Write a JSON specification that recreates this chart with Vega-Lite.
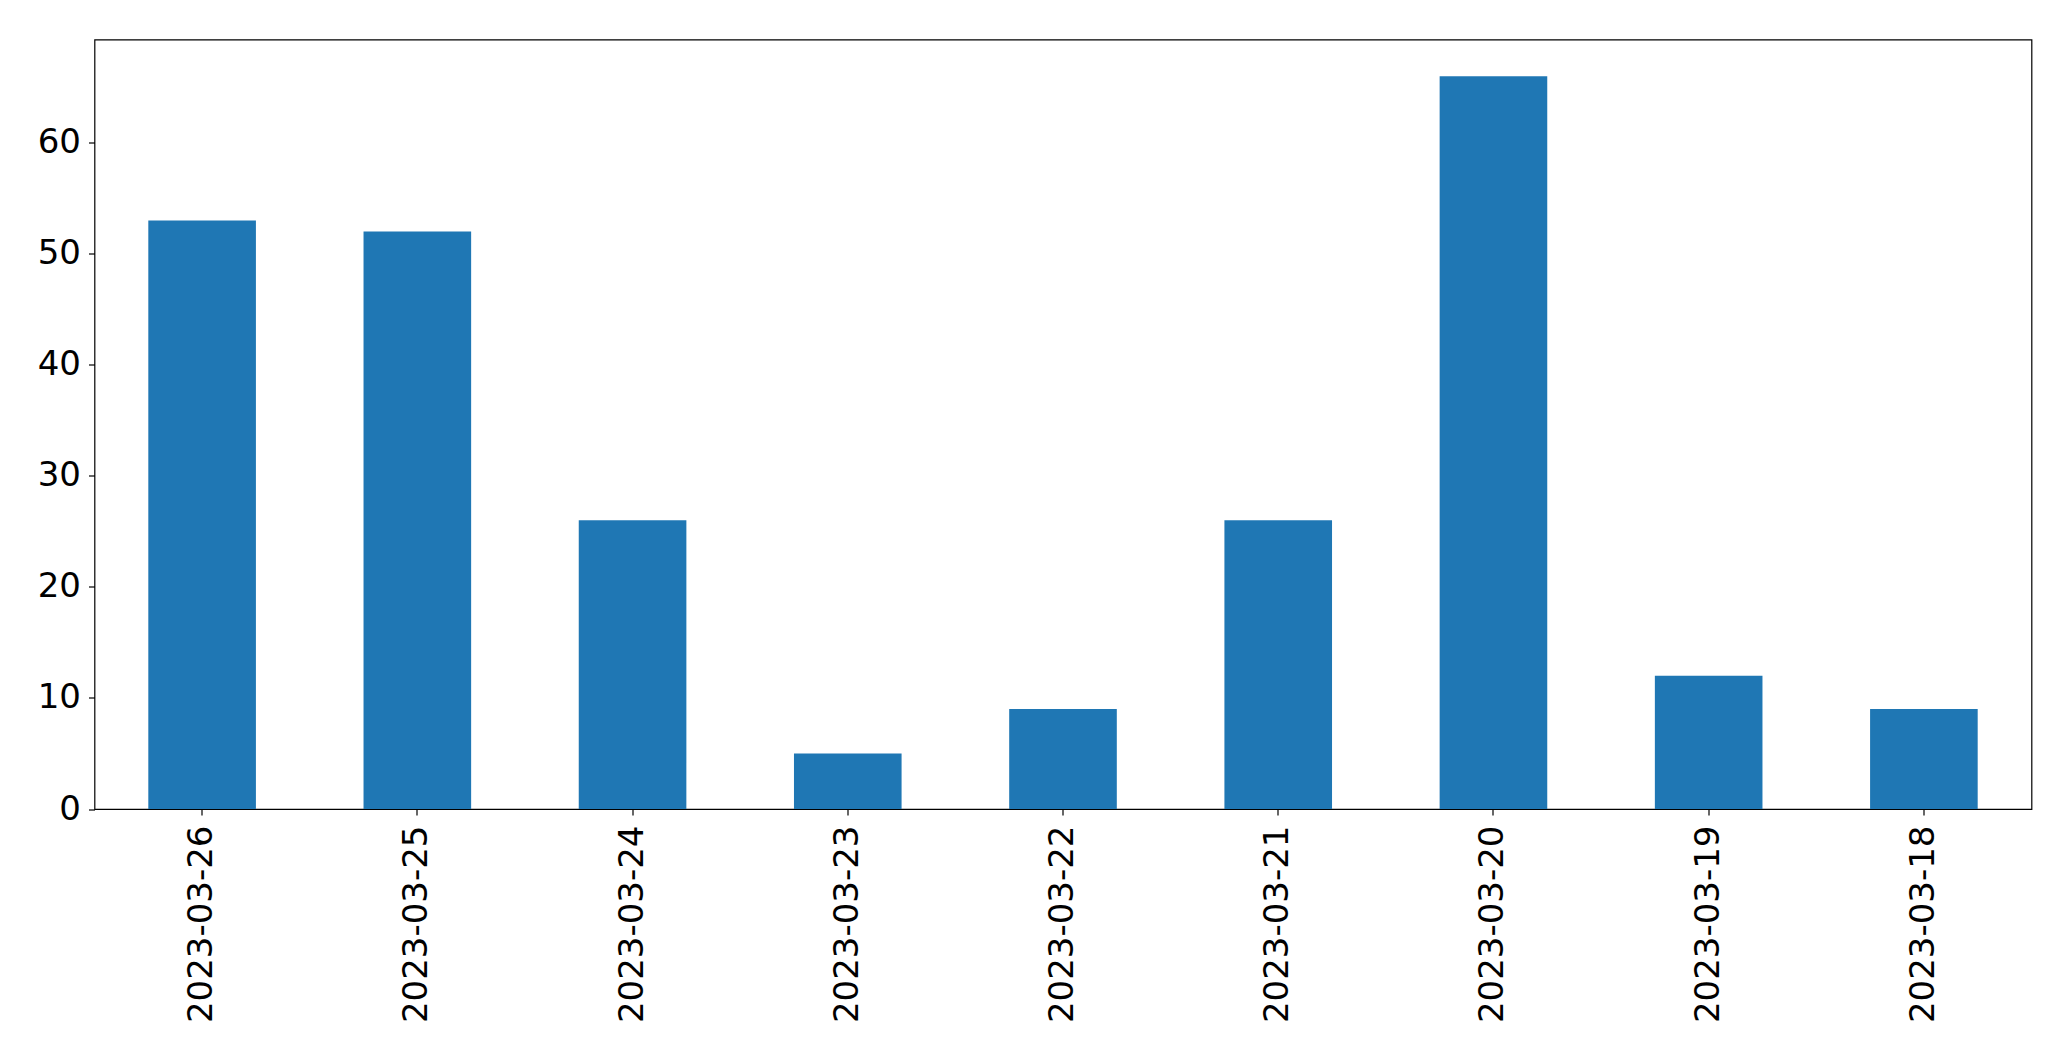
{
  "$schema": "https://vega.github.io/schema/vega-lite/v6.json",
  "autosize": {"type": "none"},
  "padding": {"left": 94.5, "top": 39.5, "right": 39, "bottom": 252},
  "width": 1937,
  "height": 769.5,
  "background": "white",
  "config": {
    "view": {"stroke": "black", "strokeWidth": 1.2},
    "axis": {
      "labelFont": "DejaVu Sans",
      "labelFontSize": 34,
      "labelColor": "black",
      "labelLimit": 0,
      "labelOverlap": false,
      "tickColor": "black",
      "tickSize": 6,
      "tickWidth": 1.2,
      "domain": false,
      "grid": false,
      "title": null
    }
  },
  "data": {
    "values": [
      {"date": "2023-03-26", "count": 53},
      {"date": "2023-03-25", "count": 52},
      {"date": "2023-03-24", "count": 26},
      {"date": "2023-03-23", "count": 5},
      {"date": "2023-03-22", "count": 9},
      {"date": "2023-03-21", "count": 26},
      {"date": "2023-03-20", "count": 66},
      {"date": "2023-03-19", "count": 12},
      {"date": "2023-03-18", "count": 9}
    ]
  },
  "mark": {"type": "bar", "color": "#1f77b4"},
  "encoding": {
    "x": {
      "field": "date",
      "type": "nominal",
      "sort": null,
      "scale": {"paddingInner": 0.5, "paddingOuter": 0.25},
      "axis": {"labelAngle": -90, "labelAlign": "right", "labelBaseline": "middle", "labelPadding": 10}
    },
    "y": {
      "field": "count",
      "type": "quantitative",
      "scale": {"domain": [0, 69.3], "nice": false, "zero": true},
      "axis": {"values": [0, 10, 20, 30, 40, 50, 60], "labelPadding": 8}
    }
  }
}
